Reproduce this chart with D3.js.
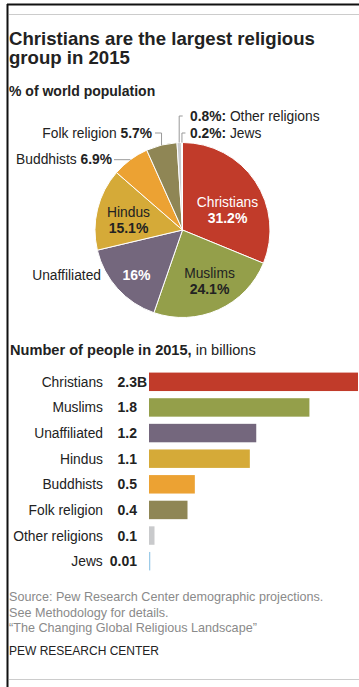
<!DOCTYPE html>
<html><head><meta charset="utf-8">
<script src="https://cdn.jsdelivr.net/npm/d3@7"></script>
<style>
html,body{margin:0;padding:0;background:#fff;}
svg{display:block;font-family:"Liberation Sans",Arial,sans-serif;}
</style></head>
<body>
<svg id="chart" width="359" height="687"></svg>
<script>
// ---- DATA ----
const groups = ["Christians","Muslims","Unaffiliated","Hindus","Buddhists","Folk religion","Other religions","Jews"];
const sharePct = [31.2, 24.1, 16, 15.1, 6.9, 5.7, 0.8, 0.2];
const shareLabels = ["31.2%","24.1%","16%","15.1%","6.9%","5.7%","0.8%","0.2%"];
const populationB = [2.28, 1.75, 1.17, 1.10, 0.50, 0.42, 0.06, 0.014];
const populationLabels = ["2.3","1.8","1.2","1.1","0.5","0.4","0.1","0.01"];
const colors = ["#c13b2a","#949f4a","#74677d","#d5aa38","#eca233","#8f8655","#c9cacc","#9ccbe8"];

const svg = d3.select("#chart");
const FS = 13.8;   // regular label size
const FB = 14;     // bold value size

// frame
svg.append("line").attr("x1",7.5).attr("x2",7.5).attr("y1",4).attr("y2",687).attr("stroke","#111").attr("stroke-width",2);
svg.append("line").attr("x1",7).attr("x2",359).attr("y1",4.5).attr("y2",4.5).attr("stroke","#111").attr("stroke-width",2);
svg.append("line").attr("x1",9).attr("x2",359).attr("y1",14.5).attr("y2",14.5).attr("stroke","#ccc").attr("stroke-width",1.2);
svg.append("line").attr("x1",9).attr("x2",359).attr("y1",679.5).attr("y2",679.5).attr("stroke","#ccc").attr("stroke-width",1.2);

// titles
svg.append("text").attr("x",9).attr("y",45).attr("font-weight","bold").attr("font-size",18.6).attr("fill","#222").text("Christians are the largest religious");
svg.append("text").attr("x",9).attr("y",64).attr("font-weight","bold").attr("font-size",18.6).attr("fill","#222").text("group in 2015");
svg.append("text").attr("x",9).attr("y",96).attr("font-weight","bold").attr("font-size",14).attr("fill","#222").text("% of world population");

// ---- PIE ----
const cx = 182.5, cy = 230, R = 87.5;
const pie = d3.pie().sort(null).value(d=>d)(sharePct);
const arc = d3.arc().innerRadius(0).outerRadius(R);
const g = svg.append("g").attr("transform",`translate(${cx},${cy})`);
g.selectAll("path").data(pie).join("path")
  .attr("d",arc).attr("fill",(d,i)=>colors[i]).attr("stroke","#fff").attr("stroke-width",1);

// inside labels (offsets relative to pie centre)
const inside = [
  {i:0, dx:45, dy:-23, color:"#fff"},
  {i:1, dx:27, dy:48, color:"#222"},
  {i:3, dx:-54, dy:-13, color:"#222"}
];
inside.forEach(o=>{
  const t = g.append("text").attr("text-anchor","middle").attr("font-size",FS).attr("fill",o.color);
  t.append("tspan").attr("x",o.dx).attr("y",o.dy).text(groups[o.i]);
  t.append("tspan").attr("x",o.dx).attr("y",o.dy+15.5).attr("font-weight","bold").attr("font-size",FB).text(shareLabels[o.i]);
});
// unaffiliated
g.append("text").attr("x",-46).attr("y",50).attr("text-anchor","middle").attr("font-size",FB).attr("font-weight","bold").attr("fill","#fff").text(shareLabels[2]);
g.append("text").attr("x",-81.5).attr("y",50).attr("text-anchor","end").attr("font-size",FS).attr("fill","#222").text(groups[2]);

function edge(i){ const a=(pie[i].startAngle+pie[i].endAngle)/2; return [cx+R*Math.sin(a), cy-R*Math.cos(a)]; }
const lc = "#999";
// Folk religion
{
  const [ex,ey] = edge(5); const ly = 133;
  const t = svg.append("text").attr("x",152).attr("y",ly+5).attr("text-anchor","end").attr("font-size",FS).attr("fill","#222");
  t.append("tspan").text(groups[5]+" ");
  t.append("tspan").attr("font-weight","bold").text(shareLabels[5]);
  svg.append("path").attr("d",`M155,${ly}H${ex}V${ey}`).attr("fill","none").attr("stroke",lc).attr("stroke-width",1);
}
// Buddhists
{
  const [ex,ey] = edge(4);
  const t = svg.append("text").attr("x",112).attr("y",ey+4.5).attr("text-anchor","end").attr("font-size",FS).attr("fill","#222");
  t.append("tspan").text(groups[4]+" ");
  t.append("tspan").attr("font-weight","bold").text(shareLabels[4]);
  svg.append("path").attr("d",`M114,${ey}H${ex}`).attr("fill","none").attr("stroke",lc).attr("stroke-width",1);
}
// Other religions & Jews
[[6,116],[7,133]].forEach(([i,ly])=>{
  const [ex,ey] = edge(i);
  svg.append("path").attr("d",`M${ex+3.5},${ly}H${ex}V${ey}`).attr("fill","none").attr("stroke",lc).attr("stroke-width",1);
  const t = svg.append("text").attr("x",190).attr("y",ly+5).attr("font-size",FS).attr("fill","#222");
  t.append("tspan").attr("font-weight","bold").text(shareLabels[i]+":");
  t.append("tspan").text(" "+groups[i]);
});

// ---- BARS ----
const bh = svg.append("text").attr("x",10).attr("y",355).attr("font-size",14.6).attr("fill","#222");
bh.append("tspan").attr("font-weight","bold").text("Number of people in 2015,");
bh.append("tspan").text(" in billions");

const y = d3.scaleBand().domain(groups).range([369,574]).paddingInner(0.28).paddingOuter(0.14);
const x = d3.scaleLinear().domain([0, populationB[0]]).range([149,358]);

svg.append("g").selectAll("rect").data(groups).join("rect")
  .attr("x",x(0)).attr("y",d=>y(d)).attr("height",y.bandwidth())
  .attr("width",(d,i)=>Math.max(1.2, x(populationB[i])-x(0)))
  .attr("fill",(d,i)=>colors[i]);

const valRight = 137;
groups.forEach((gname,i)=>{
  const yc = y(gname)+y.bandwidth()/2+5;
  const v = svg.append("text").attr("x",valRight).attr("y",yc).attr("text-anchor","end")
    .attr("font-size",FB).attr("font-weight","bold").attr("fill","#222").text(populationLabels[i]);
  if(i===0) svg.append("text").attr("x",valRight).attr("y",yc).attr("font-size",FB).attr("font-weight","bold").attr("fill","#222").text("B");
  const w = v.node().getComputedTextLength();
  svg.append("text").attr("x",Math.min(103, valRight-w-7)).attr("y",yc).attr("text-anchor","end")
    .attr("font-size",FS).attr("fill","#222").text(gname);
});

// ---- SOURCE ----
const src = ["Source: Pew Research Center demographic projections.","See Methodology for details.","\u201cThe Changing Global Religious Landscape\u201d"];
src.forEach((s,i)=>svg.append("text").attr("x",9).attr("y",601+i*15.5).attr("font-size",12.6).attr("fill","#8a8a8a").text(s));
svg.append("text").attr("x",9).attr("y",655).attr("font-size",12).attr("fill","#222").text("PEW RESEARCH CENTER");
</script>
</body></html>
